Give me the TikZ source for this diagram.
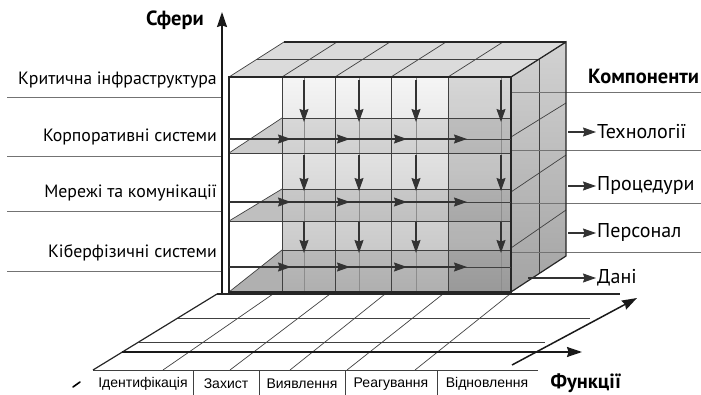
\documentclass[tikz,border=0pt]{standalone}
\usepackage{fontspec}
\setmainfont{PT Sans}
\newfontfamily\cellfont{Liberation Sans}
\usetikzlibrary{arrows.meta}

\tikzset{
  edge/.style={line width=1.2pt, black!85},
  grid/.style={line width=0.7pt, black!75},
  faint/.style={line width=0.6pt, black!45},
  guide/.style={line width=0.8pt, black!55},
  flow/.style={->, >={Stealth[length=13pt,width=9pt,inset=1.5pt]}, line width=1.1pt, black!80},
  axis/.style={->, >={Stealth[length=15pt,width=10pt,inset=1.5pt]}, line width=1.5pt, black!90},
  lbl/.style={font=\fontsize{17.8}{20}\selectfont, inner sep=1pt},
  comp lbl/.style={font=\fontsize{20}{22}\selectfont, inner sep=1pt},
  head/.style={font=\bfseries\fontsize{20.5}{23}\selectfont, inner sep=1pt},
  cell/.style={font=\cellfont\fontsize{14}{16}\selectfont, inner sep=0pt},
}

\begin{document}
\begin{tikzpicture}[x=1pt,y=-1pt]
  \useasboundingbox (0,0) rectangle (701,395);

  % spheres axis and labels
  \coordinate (s0) at (222,294);
  \coordinate (s1) at (222,12);
  \draw[axis] (s0) -- (s1);
  \node[head, anchor=east] (sfery) at (205,20) {Сфери};
  \node[lbl, anchor=east] (ci) at (218,80) {Критична інфраструктура};
  \node[lbl, anchor=east] (cs) at (218,137) {Корпоративні системи};
  \node[lbl, anchor=east] (nc) at (218,193) {Мережі та комунікації};
  \node[lbl, anchor=east] (cps) at (218,253) {Кіберфізичні системи};
  \foreach \y in {97,156,211,271}
    \draw[guide] (7,\y) -- (221,\y);

  % floor
  \draw[grid] (178,318) -- (590,318);
  \draw[grid] (139,342) -- (545,342);
  \draw[grid] (93,370) -- (538,370);
  \foreach \a/\b in {163/273,230/330,290/385,347/443,415/510}
    \draw[grid] (\a,370) -- (\b,294);
  \draw[edge] (93,370) -- (217,294);
  \coordinate (f0) at (122,352);
  \coordinate (f1) at (582,352);
  \draw[axis] (f0) -- (f1);
  \coordinate (g0) at (512,365);
  \coordinate (g1) at (637,298);
  \draw[axis] (g0) -- (g1);
  \draw[edge] (217,294) -- (620,294);

  % cube fills
  \fill[gray!28] (229,77) -- (284,42) -- (566,42) -- (511,77) -- cycle;
  \shade[top color=gray!35, bottom color=gray!72] (511,77) -- (566,42) -- (566,256) -- (511,292) -- cycle;
  \shade[top color=gray!8, bottom color=gray!50] (282,77) rectangle (511,292);
  \fill[black, opacity=0.12] (448,77) rectangle (511,292);
  \fill[black, opacity=0.08] (282,118) rectangle (511,153);
  \fill[black, opacity=0.08] (282,189) rectangle (511,221);
  \fill[black, opacity=0.08] (282,250) rectangle (511,292);
  \fill[gray!40] (229,153) -- (282,118) -- (282,153) -- cycle;
  \fill[gray!50] (229,221) -- (282,189) -- (282,221) -- cycle;
  \fill[gray!62] (229,292) -- (282,250) -- (282,292) -- cycle;

  % cube lines
  \foreach \x in {304,359,416,501}
    \draw[faint] (\x,77) -- (\x,292);
  \foreach \y in {118,189,250}
    \draw[grid] (282,\y) -- (511,\y);
  \draw[grid] (229,153) -- (282,118);
  \draw[grid] (229,221) -- (282,189);
  \draw[grid] (229,292) -- (282,250);
  \foreach \y in {153,221}
    \draw[grid] (229,\y) -- (511,\y);
  \foreach \x in {282,335,391,448}
    \draw[grid] (\x,77) -- (\x,292);
  \foreach \x in {229,282,335,391,448,511}
    \draw[grid] (\x,77) -- ++(55,-35);
  \draw[grid] (256,59.5) -- (538,59.5);
  \draw[grid] (539,59.5) -- (539,274);
  \foreach \y/\z in {137/103,192/155,248/210}
    \draw[grid] (511,\y) -- (566,\z);
  \foreach \y in {92,150,203,252}
    \draw[guide] (511,\y) -- (701,\y);
  \draw[edge] (284,42) -- (566,42);
  \draw[edge] (229,77) rectangle (511,292);
  \draw[edge] (511,77) -- (566,42) -- (566,256) -- (511,292);

  % flows inside the cube
  \foreach \x in {304,359,416,501} {
    \draw[flow] (\x,80) -- (\x,122);
    \draw[flow] (\x,155) -- (\x,191);
    \draw[flow] (\x,222) -- (\x,253);
  }
  \foreach \y in {139,202,267} {
    \draw[grid] (229,\y) -- (511,\y);
    \foreach \a/\b in {229/291,282/350,335/407,391/467}
      \draw[flow] (\a,\y) -- (\b,\y);
  }

  % components
  \node[head, anchor=west] (comp) at (587,76) {Компоненти};
  \node[comp lbl, anchor=west] (tech) at (596,132) {Технології};
  \node[comp lbl, anchor=west] (proc) at (596,186) {Процедури};
  \node[comp lbl, anchor=west] (pers) at (596,233) {Персонал};
  \node[comp lbl, anchor=west] (dani) at (596,278) {Дані};
  \foreach \n in {tech,proc,pers}
    \draw[flow] ([xshift=-28pt]\n.west) -- (\n.west);
  \coordinate (d0) at (528,278);
  \draw[flow] (d0) -- (dani.west);

  % functions table
  \foreach \x in {193,259,345,437}
    \draw[grid] (\x,370) -- (\x,395);
  \node[cell] (idn) at (143,384) {Ідентифікація};
  \node[cell] (zah) at (226,384) {Захист};
  \node[cell] (vyy) at (302,384) {Виявлення};
  \node[cell] (rea) at (391,384) {Реагування};
  \node[cell] (vid) at (487,384) {Відновлення};
  \draw[line width=1.6pt, line cap=round] (73,387) -- (80,382);
  \node[head] (func) at (586,383) {Функції};
\end{tikzpicture}
\end{document}
